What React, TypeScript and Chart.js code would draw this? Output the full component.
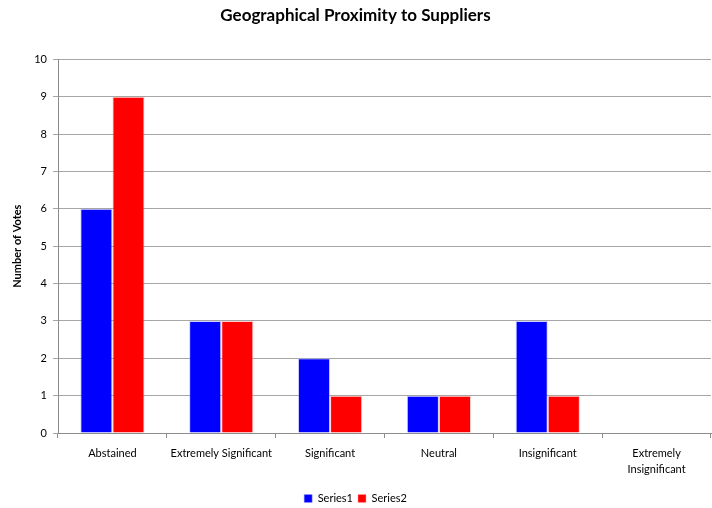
import React, { useEffect, useRef } from "react";
import { Chart, registerables } from "chart.js";

Chart.register(...registerables);

const categories: (string | string[])[] = [
  "Abstained",
  "Extremely Significant",
  "Significant",
  "Neutral",
  "Insignificant",
  ["Extremely", "Insignificant"],
];
const series1: number[] = [6, 3, 2, 1, 3, 0];
const series2: number[] = [9, 3, 1, 1, 1, 0];
const seriesNames: string[] = ["Series1", "Series2"];
const chartTitle = "Geographical Proximity to Suppliers";
const yTitle = "Number of Votes";

const FONT = "Lato, 'Open Sans', sans-serif";

export default function App() {
  const ref = useRef<HTMLCanvasElement | null>(null);
  useEffect(() => {
    if (!ref.current) return;
    const chart = new Chart(ref.current, {
      type: "bar",
      data: {
        labels: categories,
        datasets: [
          {
            label: seriesNames[0],
            data: series1,
            backgroundColor: "#0000FF",
            borderColor: "rgba(160,160,255,0.5)",
            borderWidth: 1,
            categoryPercentage: 0.59,
            barPercentage: 1,
          },
          {
            label: seriesNames[1],
            data: series2,
            backgroundColor: "#FF0000",
            borderColor: "rgba(255,160,160,0.5)",
            borderWidth: 1,
            categoryPercentage: 0.59,
            barPercentage: 1,
          },
        ],
      },
      options: {
        responsive: false,
        animation: false,
        layout: { padding: { left: 0, right: 1, top: 0, bottom: -6 } },
        plugins: {
          title: {
            display: true,
            text: chartTitle,
            color: "#000",
            font: { family: FONT, size: 17, weight: "bold" },
            padding: { top: 5, bottom: 34 },
          },
          legend: {
            position: "bottom",
            labels: {
              boxWidth: 8,
              boxHeight: 8,
              color: "#000",
              font: { family: FONT, size: 11 },
              padding: 5,
            },
          },
          tooltip: { enabled: false },
        },
        scales: {
          x: {
            grid: {
              display: true,
              drawOnChartArea: false,
              drawTicks: true,
              tickLength: 5,
              color: "#8c8c8c",
              offset: true,
            },
            border: { color: "#8c8c8c" },
            ticks: {
              color: "#000",
              font: { family: FONT, size: 11, lineHeight: 1.5 },
              padding: 7,
              maxRotation: 0,
              autoSkip: false,
            },
            afterFit: (scale: any) => {
              scale.height = 55;
            },
          },
          y: {
            min: 0,
            max: 10,
            grid: {
              color: "#a6a6a6",
              tickLength: 5,
            },
            border: { color: "#8c8c8c" },
            ticks: {
              stepSize: 1,
              color: "#000",
              font: { family: FONT, size: 11 },
              padding: 6,
            },
            title: {
              display: true,
              text: yTitle,
              color: "#000",
              font: { family: FONT, size: 11, weight: "bold" },
              padding: { top: 11, bottom: 0 },
            },
            afterFit: (scale: any) => {
              scale.width = 58;
            },
          },
        },
      },
    });
    return () => chart.destroy();
  }, []);
  return (
    <div style={{ position: "fixed", left: 0, top: 0, width: 712, height: 508, background: "#fff" }}>
      <canvas ref={ref} width={712} height={508} />
    </div>
  );
}
